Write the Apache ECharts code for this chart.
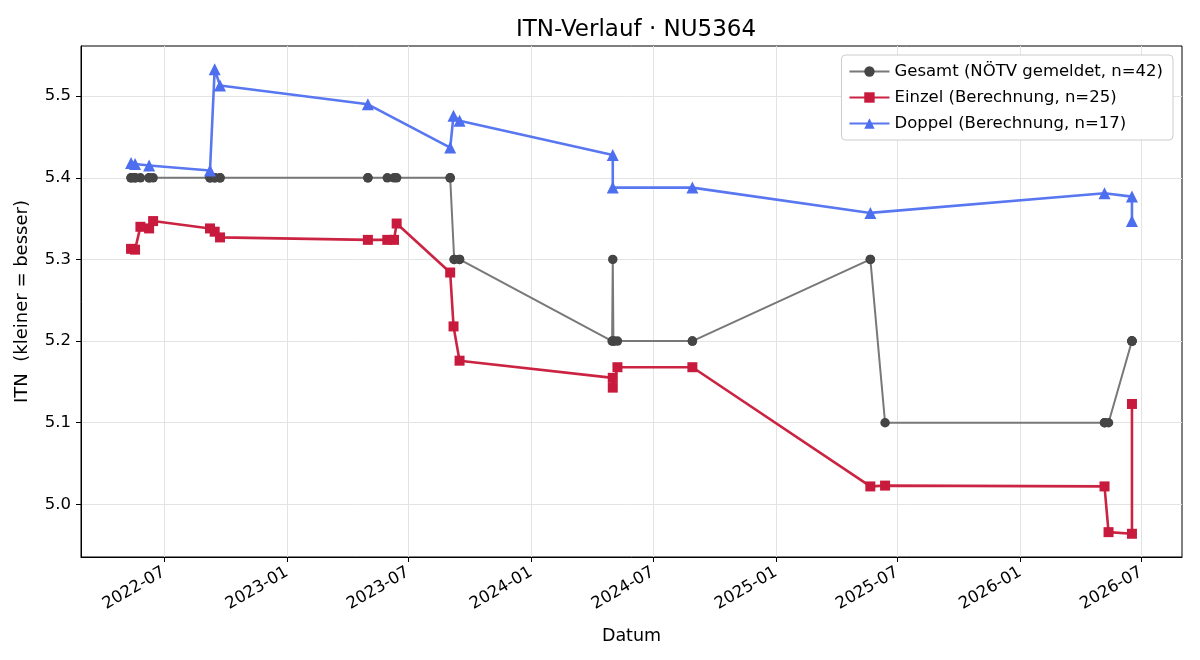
<!DOCTYPE html>
<html>
<head>
    <meta charset="utf-8">
    <style>
        html, body { margin: 0; width: 100%; height: 100%; background: #fff; }
        #chart-panel { width: 1200px; height: 660px; }
    </style>
    <script src="https://cdn.jsdelivr.net/npm/echarts@6/dist/echarts.min.js"></script>
</head>
<body>
<div id="chart-panel"></div>
<script type="text/javascript">
  // Gesamt (reported ITN), one entry per match
  var gesamtDates = [
    '2022-05-13', '2022-05-13', '2022-05-19', '2022-05-19', '2022-05-27',
    '2022-06-09', '2022-06-09', '2022-06-15', '2022-09-08', '2022-09-08',
    '2022-09-15', '2022-09-15', '2022-09-23', '2022-09-23', '2023-05-02',
    '2023-05-02', '2023-05-31', '2023-06-10', '2023-06-14', '2023-09-02',
    '2023-09-02', '2023-09-08', '2023-09-08', '2023-09-16', '2023-09-16',
    '2024-05-01', '2024-05-02', '2024-05-03', '2024-05-03', '2024-05-09',
    '2024-08-29', '2024-08-29', '2025-05-22', '2025-05-22', '2025-06-13',
    '2026-05-07', '2026-05-07', '2026-05-13', '2026-06-17', '2026-06-17',
    '2026-06-17', '2026-06-17'
  ]
  var gesamtValues = [
    5.4, 5.4, 5.4, 5.4, 5.4,
    5.4, 5.4, 5.4, 5.4, 5.4,
    5.4, 5.4, 5.4, 5.4, 5.4,
    5.4, 5.4, 5.4, 5.4, 5.4,
    5.4, 5.3, 5.3, 5.3, 5.3,
    5.2, 5.3, 5.2, 5.2, 5.2,
    5.2, 5.2, 5.3, 5.3, 5.1,
    5.1, 5.1, 5.1, 5.2, 5.2,
    5.2, 5.2
  ]

  // Einzel (calculated)
  var einzelDates = [
    '2022-05-13', '2022-05-19', '2022-05-27', '2022-06-09', '2022-06-15',
    '2022-09-08', '2022-09-15', '2022-09-23', '2023-05-02', '2023-05-31',
    '2023-06-10', '2023-06-14', '2023-09-02', '2023-09-07', '2023-09-16',
    '2024-05-02', '2024-05-02', '2024-05-09', '2024-08-29', '2025-05-22',
    '2025-06-13', '2026-05-07', '2026-05-13', '2026-06-17', '2026-06-17'
  ]
  var einzelValues = [
    5.313, 5.312, 5.340, 5.338, 5.347,
    5.338, 5.334, 5.327, 5.324, 5.324,
    5.324, 5.344, 5.284, 5.218, 5.176,
    5.155, 5.143, 5.168, 5.168, 5.022,
    5.023, 5.022, 4.966, 4.964, 5.123
  ]

  // Doppel (calculated)
  var doppelDates = [
    '2022-05-13', '2022-05-19', '2022-06-09', '2022-09-08', '2022-09-15',
    '2022-09-23', '2023-05-02', '2023-09-02', '2023-09-07', '2023-09-16',
    '2024-05-02', '2024-05-02', '2024-08-29', '2025-05-22', '2026-05-07',
    '2026-06-17', '2026-06-17'
  ]
  var doppelValues = [
    5.418, 5.417, 5.415, 5.409, 5.533,
    5.513, 5.490, 5.437, 5.476, 5.470,
    5.428, 5.388, 5.388, 5.357, 5.381,
    5.377, 5.347
  ]

  var xTickLabels = ['2022-07', '2023-01', '2023-07', '2024-01', '2024-07',
                     '2025-01', '2025-07', '2026-01', '2026-07']
  var yTickValues = [5.0, 5.1, 5.2, 5.3, 5.4, 5.5]

  function ts(s) {
    return Date.parse(s.length === 7 ? s + '-01T00:00:00Z' : s + 'T00:00:00Z')
  }
  function pairs(dates, values) {
    return dates.map(function (d, i) { return [ts(d), values[i]] })
  }
  function pad(n) { return n < 10 ? '0' + n : '' + n }

  // matplotlib-style 5% margins
  var allT = gesamtDates.map(ts)
  var tMin = Math.min.apply(null, allT), tMax = Math.max.apply(null, allT)
  var allV = gesamtValues.concat(einzelValues, doppelValues)
  var vMin = Math.min.apply(null, allV), vMax = Math.max.apply(null, allV)
  var tPad = (tMax - tMin) * 0.05, vPad = (vMax - vMin) * 0.05

  var xTicks = xTickLabels.map(ts)
  var font = 'DejaVu Sans'

  var myChart = echarts.init(document.getElementById('chart-panel'))

  var option = {
    animation: false,
    textStyle: { fontFamily: font },
    title: {
      text: 'ITN-Verlauf · NU5364',
      left: 631, top: 14, textAlign: 'center',
      textStyle: { fontFamily: font, fontSize: 23, fontWeight: 'normal', color: '#000' }
    },
    legend: {
      orient: 'vertical',
      right: 27, top: 55,
      padding: [8, 10, 8, 7],
      itemGap: 9,
      itemWidth: 40, itemHeight: 13,
      backgroundColor: '#fff',
      borderColor: '#cccccc', borderWidth: 1, borderRadius: 4,
      textStyle: { fontFamily: font, fontSize: 16.5, color: '#000' }
    },
    grid: {
      left: 81, right: 18, top: 46, bottom: 103,
      show: true, borderColor: '#000', borderWidth: 1, backgroundColor: 'transparent'
    },
    xAxis: {
      type: 'value',
      min: tMin - tPad, max: tMax + tPad,
      name: 'Datum', nameLocation: 'middle', nameGap: 70,
      nameTextStyle: { fontFamily: font, fontSize: 17.5, color: '#000' },
      axisLine: { show: true, lineStyle: { color: '#000', width: 1 } },
      axisTick: { show: true, length: 5, lineStyle: { color: '#000' }, customValues: xTicks },
      axisLabel: {
        customValues: xTicks, rotate: 30, margin: 14,
        fontFamily: font, fontSize: 16.5, color: '#000',
        formatter: function (v) {
          var d = new Date(v)
          return d.getUTCFullYear() + '-' + pad(d.getUTCMonth() + 1)
        }
      },
      splitLine: { show: true, lineStyle: { color: '#e3e3e3', width: 1 } }
    },
    yAxis: {
      type: 'value',
      min: vMin - vPad, max: vMax + vPad,
      name: 'ITN  (kleiner = besser)', nameLocation: 'middle', nameGap: 50, nameRotate: 90,
      nameTextStyle: { fontFamily: font, fontSize: 18, color: '#000' },
      axisLine: { show: true, lineStyle: { color: '#000', width: 1 } },
      axisTick: { show: true, length: 5, lineStyle: { color: '#000' }, customValues: yTickValues },
      axisLabel: {
        customValues: yTickValues, margin: 10,
        fontFamily: font, fontSize: 16.5, color: '#000',
        formatter: function (v) { return v.toFixed(1) }
      },
      splitLine: { show: true, lineStyle: { color: '#e3e3e3', width: 1 } }
    },
    series: [
      {
        name: 'Gesamt (NÖTV gemeldet, n=42)',
        type: 'line',
        data: pairs(gesamtDates, gesamtValues),
        symbol: 'circle', symbolSize: 9.5,
        lineStyle: { color: '#787878', width: 2 },
        itemStyle: { color: '#454545' },
        z: 2
      },
      {
        name: 'Einzel (Berechnung, n=25)',
        type: 'line',
        data: pairs(einzelDates, einzelValues),
        symbol: 'rect', symbolSize: 10,
        lineStyle: { color: '#cb2342', width: 2.6 },
        itemStyle: { color: '#c81a3c' },
        z: 3
      },
      {
        name: 'Doppel (Berechnung, n=17)',
        type: 'line',
        data: pairs(doppelDates, doppelValues),
        symbol: 'triangle', symbolSize: 12,
        lineStyle: { color: '#5877f0', width: 2.6 },
        itemStyle: { color: '#4e6ef0' },
        z: 4
      }
    ]
  }

  myChart.setOption(option)
</script>
</body>
</html>
